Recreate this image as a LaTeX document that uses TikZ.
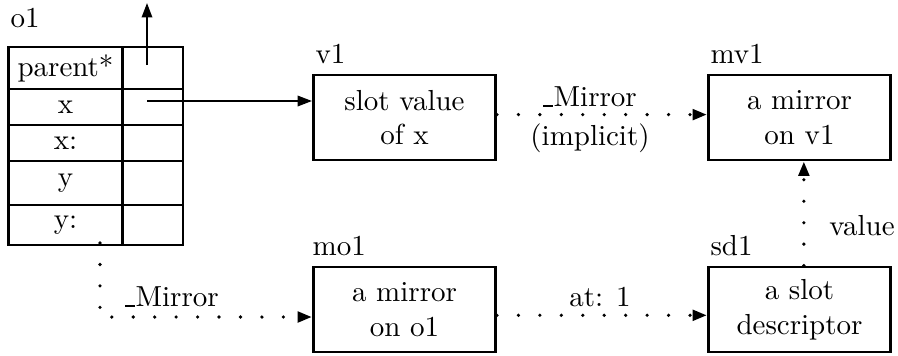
\documentclass[tikz,border=0pt]{standalone}
\usetikzlibrary{arrows.meta}
\newcommand{\usc}{\rule{3.3pt}{0.45pt}\kern0.3pt}
\begin{document}
\begin{tikzpicture}[x=0.345pt,y=-0.345pt,
  box/.style={draw,line width=1pt,minimum width=62.8pt,minimum height=29.3pt,align=center,inner sep=0pt},
  cell/.style={draw,line width=1pt,inner sep=0pt},
  lcell/.style={cell,minimum width=39.3pt},
  rcell/.style={cell,minimum width=20.7pt},
  lab/.style={inner sep=0pt},
  arr/.style={line width=0.7pt,-{Triangle[length=5pt,width=3.6pt]}},
  dots/.style={line width=1.25pt,line cap=round,dash pattern=on 0pt off 7.4pt,-{Triangle[length=5pt,width=3.6pt]}}
]
\useasboundingbox (0,0) rectangle (898,355);
% table o1
\node[lab] (o1lab) at (25,18) {o1};
\node[lcell,minimum height=14.5pt] (pl) at (65.5,68) {parent*};
\node[rcell,minimum height=14.5pt] (pr) at (153,68) {};
\node[lcell,minimum height=12.4pt] (xl) at (65.5,107) {x};
\node[rcell,minimum height=12.4pt] (xr) at (153,107) {};
\node[lcell,minimum height=12.4pt] (xcl) at (65.5,143) {x:};
\node[rcell,minimum height=12.4pt] (xcr) at (153,143) {};
\node[lcell,minimum height=15.2pt] (yl) at (65.5,183) {y};
\node[rcell,minimum height=15.2pt] (yr) at (153,183) {};
\node[lcell,minimum height=13.8pt] (ycl) at (65.5,225) {y:};
\node[rcell,minimum height=13.8pt] (ycr) at (153,225) {};
% boxes
\node[box] (v1) at (404.5,117.5) {slot value\\of x};
\node[box] (mv1) at (799.5,117.5) {a mirror\\on v1};
\node[box] (mo1) at (404.5,309.5) {a mirror\\on o1};
\node[box] (sd1) at (799.5,309.5) {a slot\\descriptor};
\node[anchor=south west,inner xsep=1pt,inner ysep=3.2pt] (v1lab) at (v1.north west) {v1};
\node[anchor=south west,inner xsep=1pt,inner ysep=3.2pt] (mv1lab) at (mv1.north west) {mv1};
\node[anchor=south west,inner xsep=0pt,inner ysep=3.2pt] (mo1lab) at (mo1.north west) {mo1};
\node[anchor=south west,inner xsep=1pt,inner ysep=3.2pt] (sd1lab) at (sd1.north west) {sd1};
% connectors
\coordinate (ps) at (147,65);
\coordinate (ptop) at (147,3);
\draw[arr] (ps) -- (ptop);
\coordinate (xs) at (147,101);
\draw[arr] (xs) -- (xs -| v1.west);
\draw[dots] ([yshift=1pt]v1.east) -- ([yshift=1pt]mv1.west);
\node[lab] (m1) at (590,97) {\usc Mirror};
\node[lab] (impl) at (590,138) {(implicit)};
\draw[dots] ([yshift=-2pt]mo1.east) -- ([yshift=-2pt]sd1.west);
\node[lab] (at1) at (600,297) {at: 1};
\draw[dots] ([xshift=1.5pt]sd1.north) -- ([xshift=1.5pt]mv1.south);
\node[lab] (val) at (862,226) {value};
\coordinate (ys) at (100,243);
\coordinate (yc) at (100,317);
\draw[dots] (ys) -- (yc) -- (yc -| mo1.west);
\node[lab] (m2) at (172,297) {\usc Mirror};
\end{tikzpicture}
\end{document}
